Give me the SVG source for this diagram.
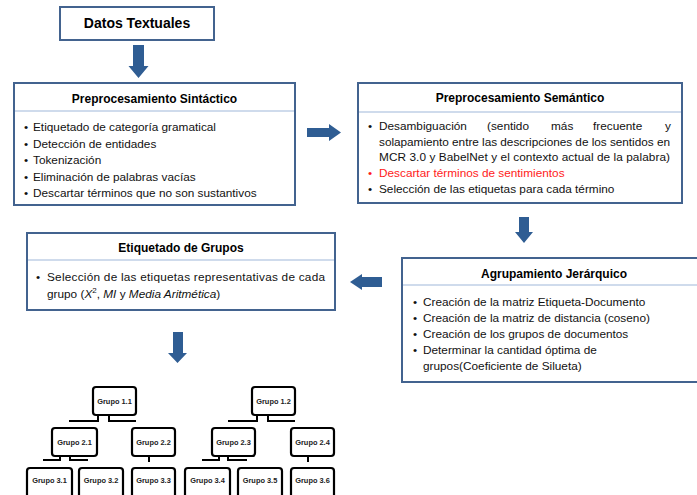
<svg xmlns="http://www.w3.org/2000/svg" width="697" height="495" viewBox="0 0 697 495">
<style>
  .box { fill: #ffffff; stroke: #43638f; stroke-width: 2; }
  .sep { stroke: #9fb7d9; stroke-width: 1; fill: none; }
  .title { font-family: "Liberation Sans", Arial, sans-serif; font-weight: bold; font-size: 12px; fill: #000; text-anchor: middle; }
  .body { font-family: "Liberation Sans", Arial, sans-serif; font-size: 11.8px; fill: #111; }
  .red { fill: #ff1a1a; }
  .arrow { fill: #2f5d93; }
  .tbox { fill: #ffffff; stroke: #000; stroke-width: 2.2; }
  .tlab { font-family: "Liberation Sans", Arial, sans-serif; font-weight: bold; font-size: 7.4px; fill: #222; text-anchor: middle; }
  .stub { fill: none; stroke: #000; stroke-width: 2; }
</style>
<rect width="697" height="495" fill="#ffffff"/>

<g id="connectors">
  <polygon class="arrow" points="133,45 144,45 144,66 148.5,66 138.5,78 128.5,66 133,66"/>
  <polygon class="arrow" points="307,128 329,128 329,124 341,132.5 329,141 329,137 307,137"/>
  <polygon class="arrow" points="519,217 529,217 529,232 533,232 524,243 515,232 519,232"/>
  <polygon class="arrow" points="382,277 362,277 362,274 350,282 362,290 362,287 382,287"/>
  <polygon class="arrow" points="173,332 183,332 183,353 187,353 177.5,363 168,353 173,353"/>
  <path class="stub" d="M98 415 V421 H69 M109 415 V421 H136"/>
  <path class="stub" d="M257 415 V421 H228 M268 415 V421 H295"/>
  <path class="stub" d="M60 456 V460 H43 M70 456 V460 H88"/>
  <path class="stub" d="M219 456 V460 H202 M228 456 V460 H247"/>
  <path class="stub" d="M149 456 V462"/>
  <path class="stub" d="M308 456 V462"/>
</g>

<g id="datos">
  <rect class="box" x="60" y="7" width="154" height="33"/>
  <text class="title" x="137" y="28" style="font-size:14px">Datos Textuales</text>
</g>

<g id="sintactico">
  <rect class="box" x="14" y="83" width="281" height="122"/>
  <line class="sep" x1="15" y1="111" x2="294" y2="111"/>
  <text class="title" x="154.5" y="103">Preprocesamiento Sintáctico</text>
  <g class="body">
    <text x="24" y="131">•</text><text x="33" y="131">Etiquetado de categoría gramatical</text>
    <text x="24" y="147.5">•</text><text x="33" y="147.5">Detección de entidades</text>
    <text x="24" y="164">•</text><text x="33" y="164">Tokenización</text>
    <text x="24" y="180.5">•</text><text x="33" y="180.5">Eliminación de palabras vacías</text>
    <text x="24" y="197">•</text><text x="33" y="197">Descartar términos que no son sustantivos</text>
  </g>
</g>

<g id="semantico">
  <rect class="box" x="358" y="83" width="324" height="120"/>
  <line class="sep" x1="359" y1="112" x2="681" y2="112"/>
  <text class="title" x="520" y="102">Preprocesamiento Semántico</text>
  <g class="body">
    <text x="368" y="130">•</text>
    <text x="379" y="130">Desambiguación</text>
    <text x="487" y="130">(sentido</text>
    <text x="551" y="130">más</text>
    <text x="593" y="130">frecuente</text>
    <text x="665" y="130">y</text>
    <text x="379" y="145.5" textLength="291" lengthAdjust="spacing">solapamiento entre las descripciones de los sentidos en</text>
    <text x="379" y="161" textLength="291" lengthAdjust="spacing">MCR 3.0 y BabelNet y el contexto actual de la palabra)</text>
    <text x="368" y="177" class="red">•</text><text x="379" y="177" class="red">Descartar términos de sentimientos</text>
    <text x="368" y="192.5">•</text><text x="379" y="192.5">Selección de las etiquetas para cada término</text>
  </g>
</g>

<g id="etiquetado">
  <rect class="box" x="27" y="233" width="308" height="77"/>
  <line class="sep" x1="28" y1="260" x2="334" y2="260"/>
  <text class="title" x="181" y="252">Etiquetado de Grupos</text>
  <g class="body">
    <text x="36" y="281">•</text>
    <text x="47" y="281" textLength="278" lengthAdjust="spacing">Selección de las etiquetas representativas de cada</text>
    <text x="47" y="298">grupo (<tspan font-style="italic">X</tspan><tspan font-size="8" dy="-5">2</tspan><tspan dy="5">, </tspan><tspan font-style="italic">MI</tspan> y <tspan font-style="italic">Media Aritmética</tspan>)</text>
  </g>
</g>

<g id="agrupamiento">
  <rect class="box" x="402" y="258" width="304" height="124"/>
  <line class="sep" x1="403" y1="285" x2="697" y2="285"/>
  <text class="title" x="554" y="278">Agrupamiento Jerárquico</text>
  <g class="body">
    <text x="413" y="306">•</text><text x="423" y="306">Creación de la matriz Etiqueta-Documento</text>
    <text x="413" y="322">•</text><text x="423" y="322">Creación de la matriz de distancia (coseno)</text>
    <text x="413" y="338">•</text><text x="423" y="338">Creación de los grupos de documentos</text>
    <text x="413" y="354">•</text><text x="423" y="354">Determinar la cantidad óptima de</text>
    <text x="423" y="370">grupos(Coeficiente de Silueta)</text>
  </g>
</g>

<g id="g11"><rect class="tbox" x="93" y="387" width="43" height="28" rx="3"/><text class="tlab" x="114.5" y="403.5">Grupo 1.1</text></g>
<g id="g12"><rect class="tbox" x="252" y="387" width="43" height="28" rx="3"/><text class="tlab" x="273.5" y="403.5">Grupo 1.2</text></g>
<g id="g21"><rect class="tbox" x="52" y="428" width="45" height="28" rx="3"/><text class="tlab" x="74.5" y="444.5">Grupo 2.1</text></g>
<g id="g22"><rect class="tbox" x="132" y="428" width="43" height="28" rx="3"/><text class="tlab" x="153.5" y="444.5">Grupo 2.2</text></g>
<g id="g23"><rect class="tbox" x="212" y="428" width="43" height="28" rx="3"/><text class="tlab" x="233.5" y="444.5">Grupo 2.3</text></g>
<g id="g24"><rect class="tbox" x="291" y="428" width="43" height="28" rx="3"/><text class="tlab" x="312.5" y="444.5">Grupo 2.4</text></g>
<g id="g31"><rect class="tbox" x="27" y="468" width="45" height="40" rx="3"/><text class="tlab" x="49.5" y="482.5">Grupo 3.1</text></g>
<g id="g32"><rect class="tbox" x="79" y="468" width="44" height="40" rx="3"/><text class="tlab" x="101" y="482.5">Grupo 3.2</text></g>
<g id="g33"><rect class="tbox" x="132" y="468" width="43" height="40" rx="3"/><text class="tlab" x="153.5" y="482.5">Grupo 3.3</text></g>
<g id="g34"><rect class="tbox" x="185" y="468" width="45" height="40" rx="3"/><text class="tlab" x="207.5" y="482.5">Grupo 3.4</text></g>
<g id="g35"><rect class="tbox" x="238" y="468" width="44" height="40" rx="3"/><text class="tlab" x="260" y="482.5">Grupo 3.5</text></g>
<g id="g36"><rect class="tbox" x="291" y="468" width="43" height="40" rx="3"/><text class="tlab" x="312.5" y="482.5">Grupo 3.6</text></g>
</svg>
